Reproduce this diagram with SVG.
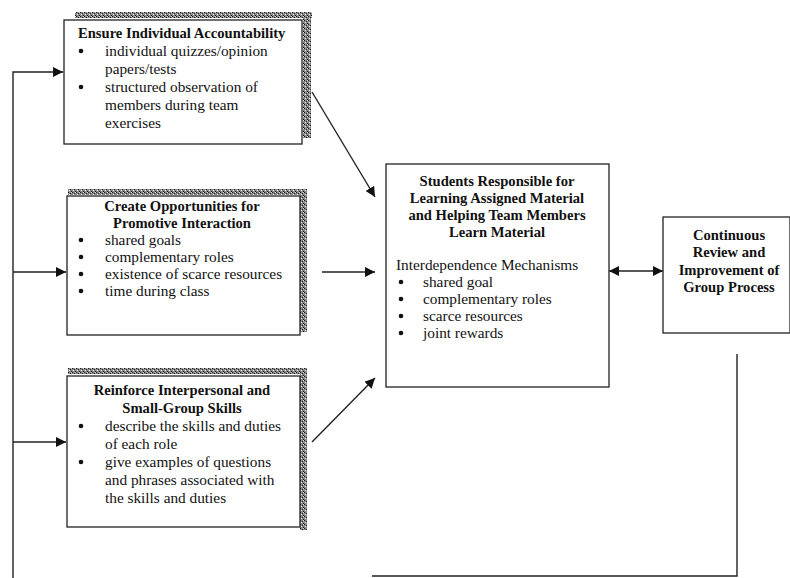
<svg xmlns="http://www.w3.org/2000/svg" width="790" height="578" viewBox="0 0 790 578">
<defs>
<pattern id="dither" width="4" height="4" patternUnits="userSpaceOnUse">
<rect width="4" height="4" fill="#8a8a8a"/>
<rect x="0" y="0" width="1" height="1" fill="#111"/>
<rect x="2" y="1" width="1" height="1" fill="#222"/>
<rect x="1" y="2" width="1" height="1" fill="#eee"/>
<rect x="3" y="3" width="1" height="1" fill="#111"/>
<rect x="3" y="0" width="1" height="1" fill="#ddd"/>
</pattern>
<marker id="ah" viewBox="0 0 10 10" refX="10" refY="5" markerWidth="10" markerHeight="10" markerUnits="userSpaceOnUse" orient="auto-start-reverse">
<path d="M0,0 L10,5 L0,10 z" fill="#111"/>
</marker>
</defs>
<style>
text{font-family:"Liberation Serif","Times New Roman",serif;font-size:15.3px;fill:#111}
.b{font-weight:bold;font-size:14.6px}
.c{text-anchor:middle}
.d{fill:#111}
.box{fill:#fff;stroke:#222;stroke-width:1.3}
.sh{fill:url(#dither)}
.ln{fill:none;stroke:#222;stroke-width:1.4}
</style>
<rect width="790" height="578" fill="#fff"/>

<g id="connectors">
<polyline class="ln" points="13,578 13,72 63,72" marker-end="url(#ah)"/>
<line class="ln" x1="13" y1="272" x2="66" y2="272" marker-end="url(#ah)"/>
<line class="ln" x1="13" y1="442" x2="66" y2="442" marker-end="url(#ah)"/>
<line class="ln" x1="312" y1="92" x2="375" y2="197" marker-end="url(#ah)"/>
<line class="ln" x1="322" y1="272" x2="375" y2="272" marker-end="url(#ah)"/>
<line class="ln" x1="312" y1="442" x2="375" y2="378" marker-end="url(#ah)"/>
<line class="ln" x1="609" y1="271" x2="663" y2="271" marker-start="url(#ah)" marker-end="url(#ah)"/>
<polyline class="ln" points="737,354 737,576 372,576"/>
</g>

<g id="box1">
<rect class="sh" x="75" y="12" width="237" height="6"/>
<rect class="sh" x="303" y="12" width="8" height="126"/>
<rect class="box" x="64" y="20" width="238" height="124"/>
<text class="b" x="78" y="38">Ensure Individual Accountability</text>
<circle class="d" cx="81" cy="51" r="2.3"/><text x="105" y="56">individual quizzes/opinion</text>
<text x="105" y="74">papers/tests</text>
<circle class="d" cx="81" cy="87" r="2.3"/><text x="105" y="92">structured observation of</text>
<text x="105" y="110">members during team</text>
<text x="105" y="128">exercises</text>
</g>

<g id="box2">
<rect class="sh" x="68" y="189" width="239" height="6"/>
<rect class="sh" x="300" y="189" width="7" height="143"/>
<rect class="box" x="67" y="196" width="233" height="139"/>
<text class="b c" x="182" y="211">Create Opportunities for</text>
<text class="b c" x="182" y="228">Promotive Interaction</text>
<circle class="d" cx="81" cy="240" r="2.3"/><text x="105" y="245">shared goals</text>
<circle class="d" cx="81" cy="257" r="2.3"/><text x="105" y="262">complementary roles</text>
<circle class="d" cx="81" cy="274" r="2.3"/><text x="105" y="279">existence of scarce resources</text>
<circle class="d" cx="81" cy="291" r="2.3"/><text x="105" y="296">time during class</text>
</g>

<g id="box3">
<rect class="sh" x="68" y="368" width="239" height="6"/>
<rect class="sh" x="300" y="368" width="7" height="162"/>
<rect class="box" x="67" y="376" width="233" height="151"/>
<text class="b c" x="182" y="395">Reinforce Interpersonal and</text>
<text class="b c" x="182" y="413">Small-Group Skills</text>
<circle class="d" cx="81" cy="426" r="2.3"/><text x="105" y="431">describe the skills and duties</text>
<text x="105" y="449">of each role</text>
<circle class="d" cx="81" cy="462" r="2.3"/><text x="105" y="467">give examples of questions</text>
<text x="105" y="485">and phrases associated with</text>
<text x="105" y="503">the skills and duties</text>
</g>

<g id="box4">
<rect class="box" x="386" y="164" width="223" height="223"/>
<text class="b c" x="497" y="186">Students Responsible for</text>
<text class="b c" x="497" y="203">Learning Assigned Material</text>
<text class="b c" x="497" y="220">and Helping Team Members</text>
<text class="b c" x="497" y="237">Learn Material</text>
<text x="396" y="270">Interdependence Mechanisms</text>
<circle class="d" cx="401" cy="282" r="2.3"/><text x="423" y="287">shared goal</text>
<circle class="d" cx="401" cy="299" r="2.3"/><text x="423" y="304">complementary roles</text>
<circle class="d" cx="401" cy="316" r="2.3"/><text x="423" y="321">scarce resources</text>
<circle class="d" cx="401" cy="333" r="2.3"/><text x="423" y="338">joint rewards</text>
</g>

<g id="box5">
<rect class="box" x="663" y="217" width="127" height="116"/>
<text class="b c" x="729" y="240">Continuous</text>
<text class="b c" x="729" y="257">Review and</text>
<text class="b c" x="729" y="275">Improvement of</text>
<text class="b c" x="729" y="292">Group Process</text>
</g>
</svg>
